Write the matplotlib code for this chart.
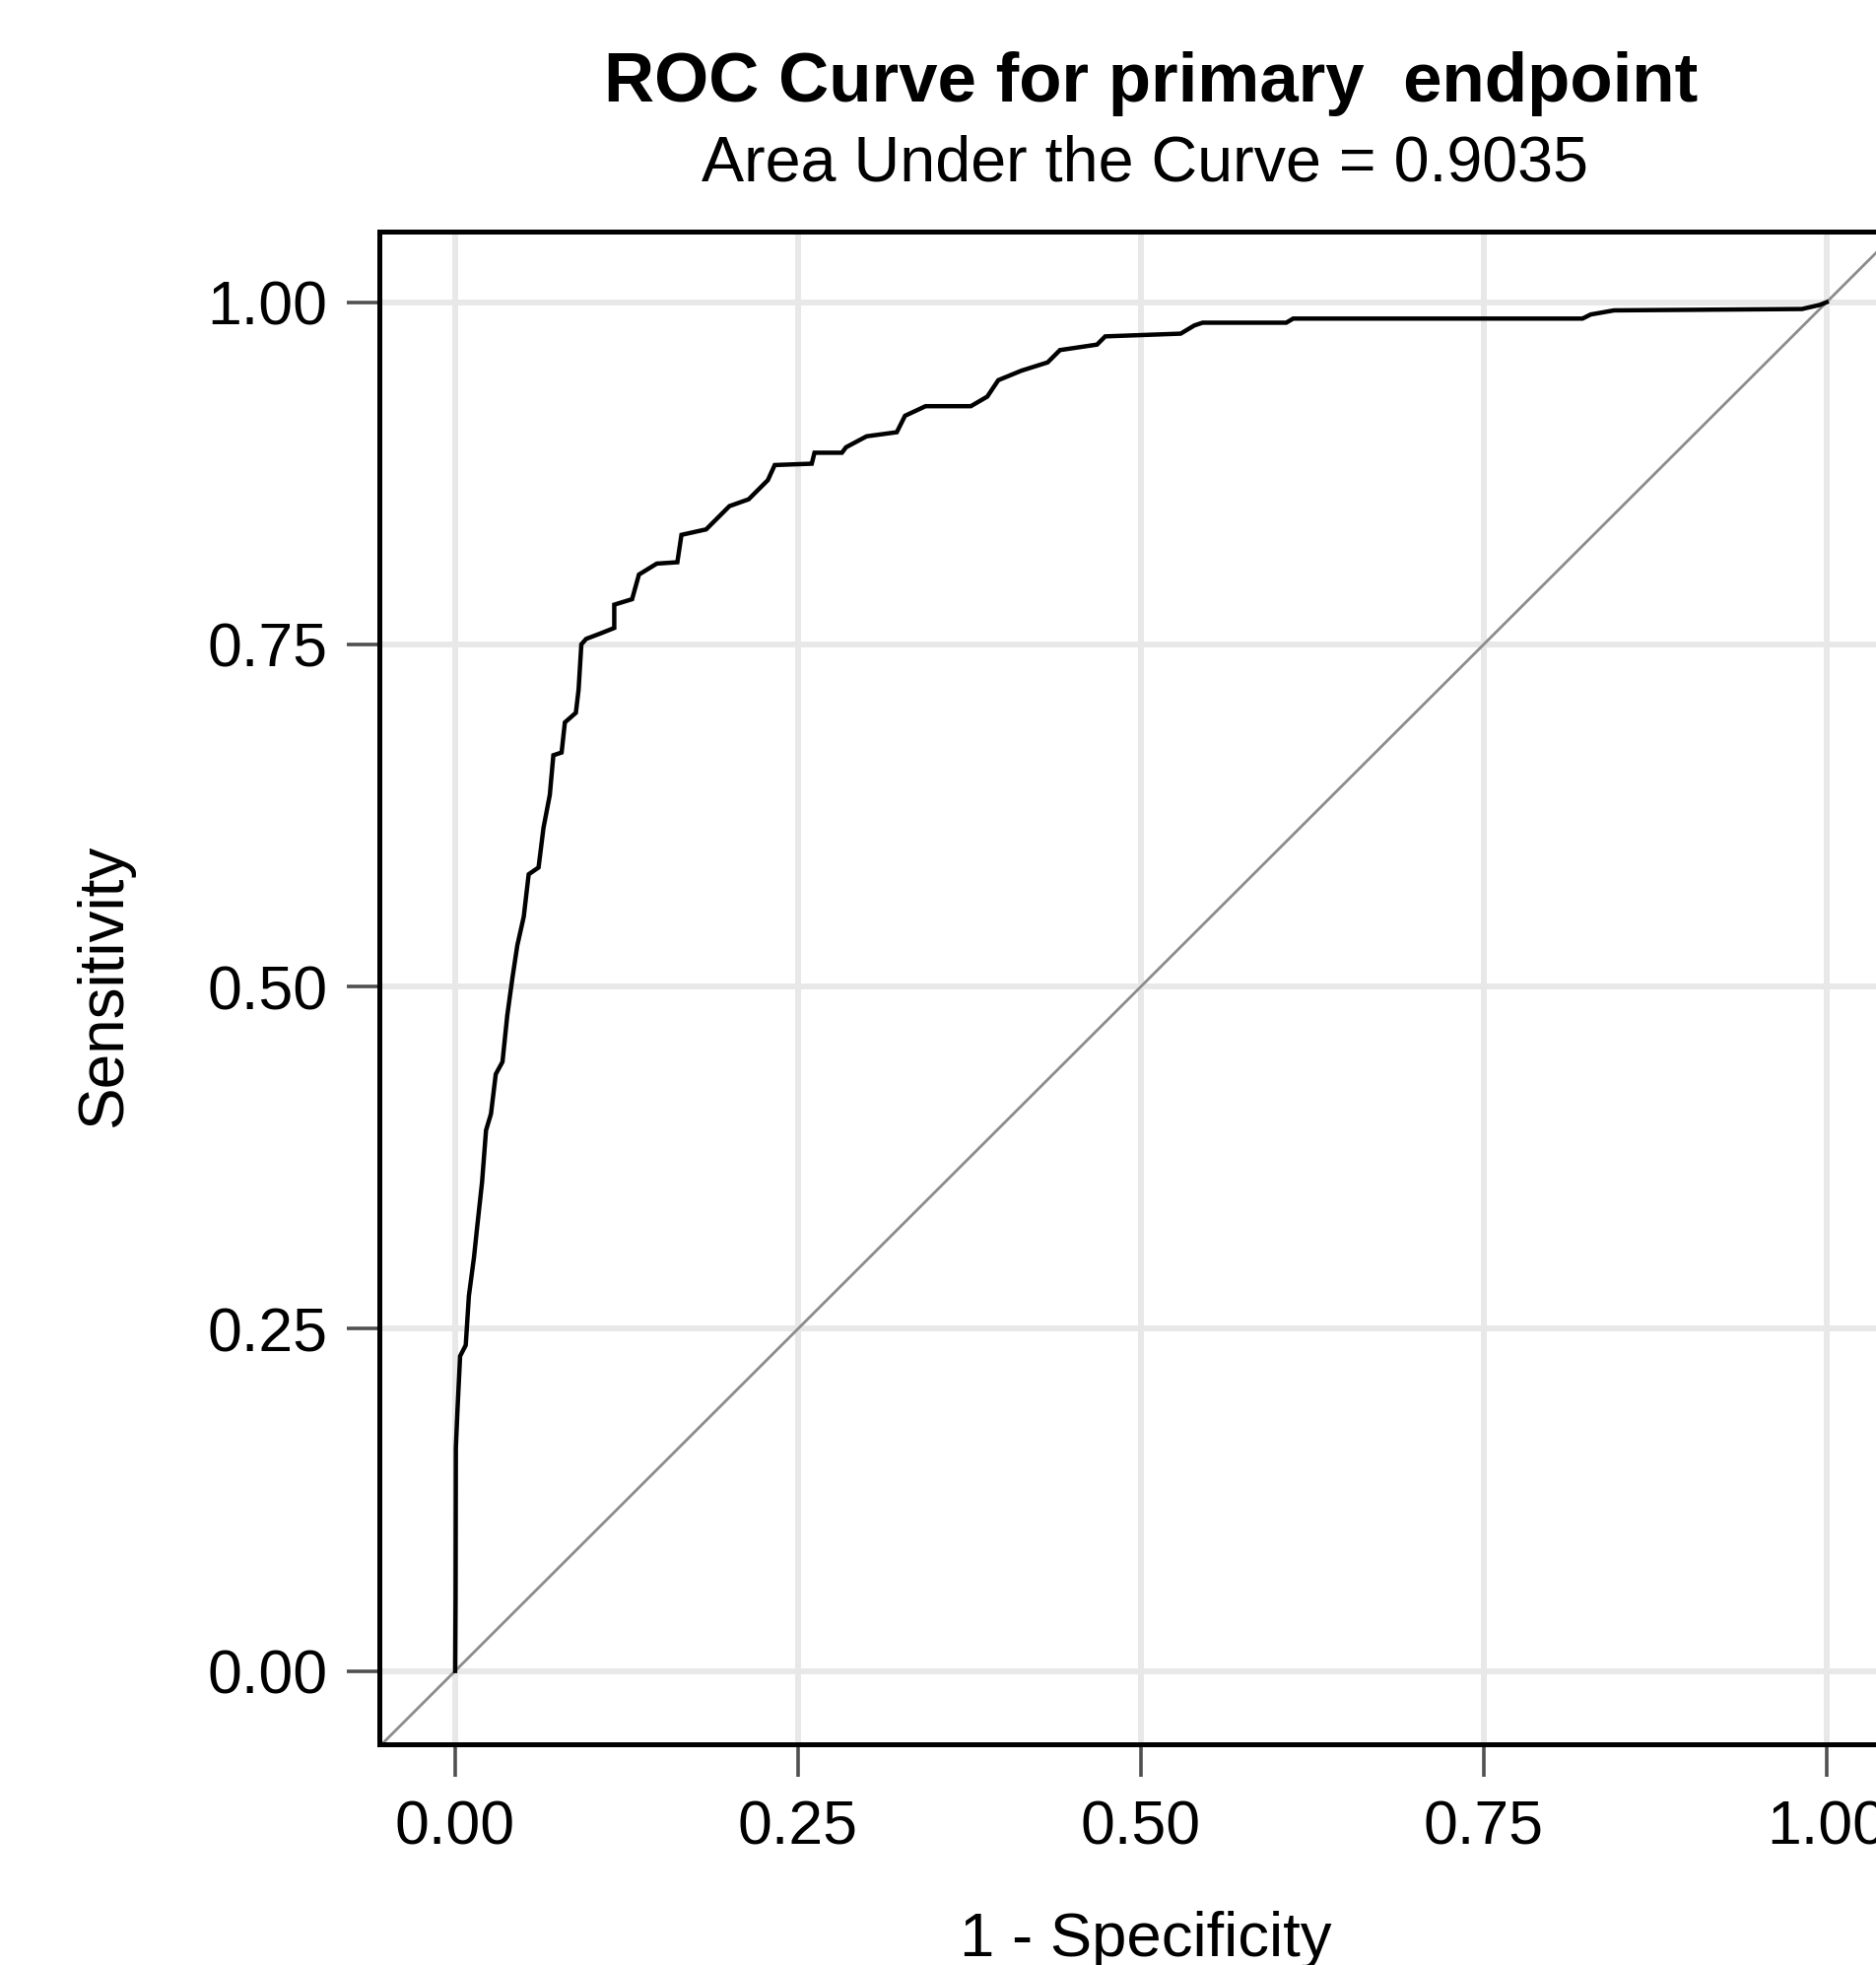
import matplotlib
matplotlib.use('Agg')
import matplotlib.pyplot as plt

plt.rcParams['font.family'] = ['Liberation Sans', 'DejaVu Sans']

# %%
# Data
# '''''''''''''''''''''''''''''''''''

title = 'ROC Curve for primary  endpoint'
subtitle = 'Area Under the Curve = 0.9035'
xlabel = '1 - Specificity'
ylabel = 'Sensitivity'
ticks = [0.0, 0.25, 0.5, 0.75, 1.0]
ticklabels = ['0.00', '0.25', '0.50', '0.75', '1.00']

# 1 - specificity (false positive rate)
fpr = [
    0.0, 0.0003, 0.0005, 0.0017, 0.0036, 0.0077, 0.010, 0.0137, 0.016, 0.0196,
    0.0225, 0.0261, 0.0296, 0.0345, 0.038, 0.0417, 0.0453, 0.050, 0.0536, 0.0608,
    0.0644, 0.069, 0.0716, 0.0776, 0.080, 0.088, 0.090, 0.092, 0.0955, 0.106,
    0.116, 0.116, 0.129, 0.134, 0.147, 0.162, 0.165, 0.183, 0.200, 0.214,
    0.228, 0.233, 0.260, 0.262, 0.282, 0.285, 0.300, 0.322, 0.328, 0.343,
    0.376, 0.388, 0.396, 0.413, 0.432, 0.441, 0.468, 0.474, 0.529, 0.539,
    0.545, 0.606, 0.611, 0.822, 0.828, 0.845, 0.982, 0.995, 1.0,
]
# sensitivity (true positive rate)
tpr = [
    0.0, 0.055, 0.163, 0.191, 0.230, 0.238, 0.274, 0.302, 0.324, 0.357,
    0.395, 0.407, 0.436, 0.445, 0.479, 0.506, 0.530, 0.551, 0.582, 0.587,
    0.616, 0.640, 0.669, 0.671, 0.693, 0.700, 0.717, 0.750, 0.754, 0.758,
    0.762, 0.779, 0.783, 0.801, 0.809, 0.810, 0.830, 0.834, 0.851, 0.856,
    0.870, 0.881, 0.882, 0.890, 0.890, 0.894, 0.902, 0.905, 0.917, 0.924,
    0.924, 0.931, 0.943, 0.950, 0.956, 0.965, 0.969, 0.975, 0.977, 0.983,
    0.985, 0.985, 0.988, 0.988, 0.991, 0.994, 0.995, 0.998, 1.0,
]

# %%
# Figure and axes (axes run past the right edge, as in the reference)
# '''''''''''''''''''''''''''''''''''''''''''''''''''''''''''''''''''

fig = plt.figure(figsize=(19.04, 19.94), dpi=100)
ax = fig.add_axes([0.2022, 0.1123, 0.8114, 0.7698])
ax.set_xlim(-0.0553, 1.0546)
ax.set_ylim(-0.0536, 1.0515)

ax.grid(True, color='#e8e8e8', linewidth=4.3)
ax.set_axisbelow(True)
ax.set_xticks(ticks, ticklabels)
ax.set_yticks(ticks, ticklabels)
ax.tick_params(length=24, width=2.6, color='#505050', labelsize=45, pad=14)
ax.tick_params(axis='x', pad=16)
for side in ['top', 'bottom', 'left', 'right']:
    ax.spines[side].set_linewidth(3.6)

# Reference diagonal and the ROC curve
ax.axline((0, 0), slope=1, color='#8c8c8c', linewidth=2.0)
ax.plot(fpr, tpr, color='black', linewidth=3.2, solid_joinstyle='miter')

# %%
# Titles and axis labels
# ''''''''''''''''''''''

fig.text(1168 / 1904, 1 - 103 / 1994, title, ha='center', va='baseline',
         fontsize=51, fontweight='bold')
fig.text(1162 / 1904, 1 - 184 / 1994, subtitle, ha='center', va='baseline',
         fontsize=46.5)
fig.text(1163 / 1904, 1 - 1985 / 1994, xlabel, ha='center', va='baseline',
         fontsize=45.6)
fig.text(106 / 1904, 1 - 1000 / 1994, ylabel, ha='center', va='center',
         rotation=90, fontsize=46)

fig.savefig('out.png', dpi=100)
